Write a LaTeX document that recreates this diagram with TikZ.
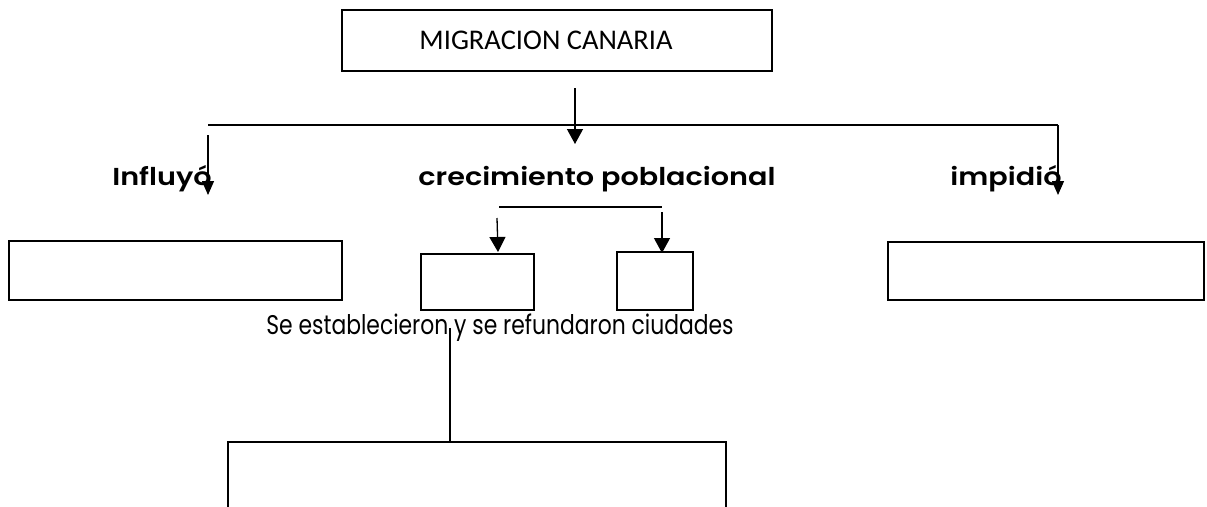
\documentclass[tikz,border=0pt]{standalone}
\usepackage{fontspec}
\setmainfont{Poppins}
\newfontfamily\calib{Carlito}
\newfontfamily\popbold[FakeStretch=1.17]{Poppins SemiBold}
\newfontfamily\popnarrow[FakeStretch=0.81]{Poppins}
\usetikzlibrary{arrows.meta}
\tikzset{
  conn/.style={line width=1.3pt},
  boxline/.style={line width=1.3pt},
  arr/.style={line width=1.3pt, -{Triangle[width=16pt,length=15pt]}},
  arrs/.style={line width=1.3pt, -{Triangle[width=12pt,length=14pt]}},
  lbl/.style={font=\popbold\fontsize{24.5}{28}\selectfont, inner sep=0pt, anchor=base},
}
\begin{document}
\begin{tikzpicture}[x=1pt,y=-1pt]
\clip (0,0) rectangle (1207,506);
\fill[white] (0,0) rectangle (1207,506);
% top box
\draw[boxline] (342,10) rectangle (772,71);
\node[inner sep=0pt, anchor=base, font=\calib\fontsize{28.5}{32}\selectfont] (top) at (546,49) {MIGRACION CANARIA};
% lines
\coordinate (a0) at (575,88);
\coordinate (a1) at (575,144);
\draw[arr] (a0) -- (a1);
\coordinate (h0) at (208,125);
\coordinate (h1) at (1058,125);
\coordinate (r1) at (1058,195);
\draw[conn] (h0) -- (h1);
\draw[arrs] (h1) -- (r1);
\coordinate (l0) at (208,135);
\coordinate (l1) at (208,195);
\draw[arrs] (l0) -- (l1);
% labels
\node[lbl] (infl) at (162,185) {Influyó};
\node[lbl] (crec) at (597,185) {crecimiento poblacional};
\node[lbl] (imp) at (1006,185) {impidió};
% sub branch
\coordinate (s0) at (499,207);
\coordinate (s1) at (662,207);
\draw[conn] (s0) -- (s1);
\coordinate (b0) at (497,218);
\coordinate (b1) at (498,252);
\draw[arr] (b0) -- (b1);
\coordinate (c0) at (662,212);
\coordinate (c1) at (662,253);
\draw[arr] (c0) -- (c1);
% small boxes
\draw[boxline] (421,254) rectangle (534,310);
\draw[boxline] (617,252) rectangle (693,310);
% side boxes
\draw[boxline] (9,241) rectangle (342,300);
\draw[boxline] (888,242) rectangle (1204,300);
% text
\node[inner sep=0pt, anchor=base, font=\popnarrow\fontsize{27}{30}\selectfont] (txt) at (500,334) {Se establecieron y se refundaron ciudades};
% bottom
\coordinate (v0) at (450,328);
\coordinate (v1) at (450,442);
\draw[conn] (v0) -- (v1);
\draw[boxline] (228,520) -- (228,442) -- (726,442) -- (726,520);
\end{tikzpicture}
\end{document}
